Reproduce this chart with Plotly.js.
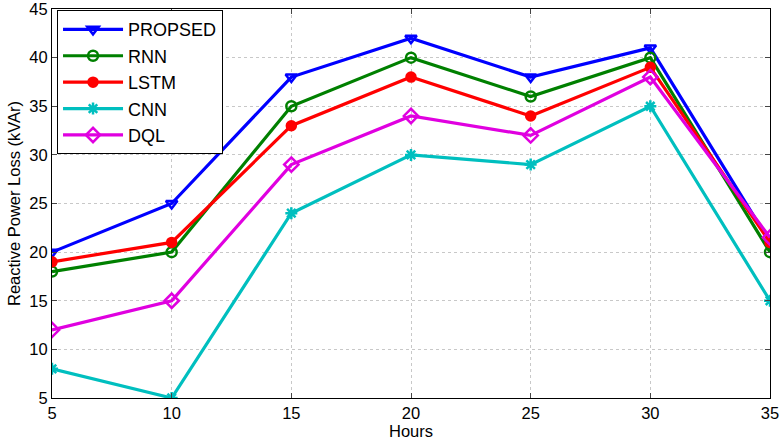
<!DOCTYPE html>
<html><head><meta charset="utf-8">
<script src="https://cdn.plot.ly/plotly-3.0.1.min.js"></script>
<style>html,body{margin:0;padding:0;background:#fff}#c{width:782px;height:445px}</style>
</head><body><div id="c"></div>
<script>
var hours = [5, 10, 15, 20, 25, 30, 35];
var proposed = [20, 25, 38, 42, 38, 41, 21];
var rnn = [18, 20, 35, 40, 36, 40, 20];
var lstm = [19, 21, 33, 38, 34, 39, 21];
var cnn = [8, 5, 24, 30, 29, 35, 15];
var dql = [12, 15, 29, 34, 32, 38, 21.5];

function tr(name, y, color, symbol, size) {
  return {x: hours, y: y, name: name, type: 'scatter', mode: 'lines+markers',
    line: {color: color, width: 3.2},
    marker: {symbol: symbol, size: size, color: color, line: {color: color, width: 2.5}}};
}
var data = [
  tr('PROPSED', proposed, '#0000ff', 'triangle-down-open', 10),
  tr('RNN', rnn, '#008000', 'circle-open', 10),
  tr('LSTM', lstm, '#ff0000', 'circle', 9),
  tr('CNN', cnn, '#00bfbf', 'asterisk-open', 10),
  tr('DQL', dql, '#e000e0', 'diamond-open', 11)
];
var axfont = {family: 'Liberation Sans, Arial, sans-serif', size: 16.5, color: '#000'};
var layout = {
  width: 782, height: 445,
  margin: {l: 52, r: 12, t: 9, b: 47},
  paper_bgcolor: '#fff', plot_bgcolor: '#fff',
  showlegend: true,
  xaxis: {range: [5, 35], tickvals: [5,10,15,20,25,30,35], ticks: 'inside', ticklen: 5,
    showline: true, linecolor: '#000', linewidth: 1, mirror: 'allticks', ticklabeloverflow: 'allow',
    showgrid: true, gridcolor: '#c8c8c8', griddash: 'dot', zeroline: false,
    tickfont: axfont, title: {text: 'Hours', font: axfont, standoff: 1}},
  yaxis: {range: [5, 45], tickvals: [5,10,15,20,25,30,35,40,45], ticks: 'inside', ticklen: 5,
    showline: true, linecolor: '#000', linewidth: 1, mirror: 'allticks', ticklabeloverflow: 'allow',
    showgrid: true, gridcolor: '#c8c8c8', griddash: 'dot', zeroline: false,
    tickfont: axfont, title: {text: 'Reactive Power Loss (kVAr)', font: axfont, standoff: 4}},
  legend: {x: 0.007, y: 0.997, xanchor: 'left', yanchor: 'top', bgcolor: '#fff',
    bordercolor: '#000', borderwidth: 1, itemwidth: 60, tracegroupgap: 0,
    font: {family: 'Liberation Sans, Arial, sans-serif', size: 18, color: '#000'}}
};
Plotly.newPlot('c', data, layout, {staticPlot: true});
</script></body></html>
